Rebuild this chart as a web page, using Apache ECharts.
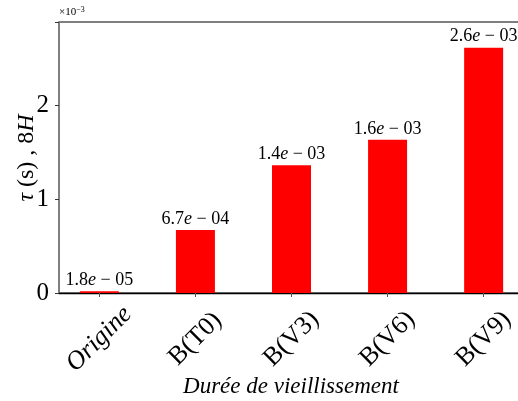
<!DOCTYPE html>
<html>
<head>
<meta charset="utf-8">
<script src="https://cdn.jsdelivr.net/npm/echarts@6/dist/echarts.min.js"></script>
<style>html,body{margin:0;padding:0;background:#fff}#c{width:518px;height:401px}</style>
</head>
<body>
<div id="c"></div>
<script>
// ---- data ----
const categories = ['Origine', 'B(T0)', 'B(V3)', 'B(V6)', 'B(V9)'];
const tauValues = [1.8e-5, 6.7e-4, 1.36e-3, 1.63e-3, 2.61e-3];
const yTickLabels = ['0', '1', '2'];
const xTitle = 'Durée de vieillissement';
const yTitle = '{it|τ} (s) , 8{it|H}';
const offsetText = '{a|×10}{b|−3}';

const FONT = 'Liberation Serif';
const chart = echarts.init(document.getElementById('c'), null, {renderer: 'canvas'});

function fmtLabel(v) {
  const s = v.toExponential(1); // e.g. 1.8e-5
  const [m, e] = s.split('e');
  const n = parseInt(e, 10);
  const sign = n < 0 ? '−' : '+';
  const ex = String(Math.abs(n)).padStart(2, '0');
  return m + '{it|e} ' + sign + ' ' + ex;
}

const option = {
  backgroundColor: '#fff',
  animation: false,
  textStyle: {fontFamily: FONT},
  grid: {left: 59, top: 22, width: 465, height: 271, show: true, borderColor: '#000', borderWidth: 1, outerBoundsMode: 'none'},
  xAxis: {
    type: 'value', min: -0.42, max: 4.42,
    splitLine: {show: false},
    axisLine: {show: true, onZero: false, lineStyle: {color: '#000', width: 1.3}},
    axisTick: {show: true, length: 4, customValues: categories.map((c, i) => i), lineStyle: {color: '#555'}},
    axisLabel: {
      customValues: categories.map((c, i) => i),
      rotate: 45, align: 'center', verticalAlign: 'middle', margin: 46,
      fontFamily: FONT, fontSize: 26, color: '#000',
      formatter: v => { const i = Math.round(v); return i === 0 ? '{it|' + categories[i] + '}' : '{rm|' + categories[i] + '}'; },
      rich: {
        it: {fontFamily: FONT, fontStyle: 'italic', fontSize: 26, color: '#000'},
        rm: {fontFamily: FONT, fontSize: 26, color: '#000'}
      }
    }
  },
  yAxis: {
    type: 'value', min: 0, max: 2.883e-3, interval: 1e-3,
    splitLine: {show: false},
    axisLine: {show: true, onZero: false, lineStyle: {color: '#808080', width: 2}},
    axisTick: {show: true, length: 4, lineStyle: {color: '#333'}},
    axisLabel: {
      fontFamily: FONT, fontSize: 25, color: '#000', margin: 10,
      formatter: v => yTickLabels[Math.round(v * 1000)] ?? ''
    }
  },
  series: [{
    type: 'bar',
    data: tauValues.map((v, i) => [i, v]),
    barWidth: 39,
    itemStyle: {color: '#ff0000'},
    label: {
      show: true, position: 'top', distance: 2,
      fontFamily: FONT, fontSize: 18, color: '#000',
      formatter: p => fmtLabel(p.value[1]),
      rich: {it: {fontFamily: FONT, fontStyle: 'italic', fontSize: 18, color: '#000'}}
    }
  }],
  graphic: [
    {type: 'text', x: 27, y: 158, rotation: Math.PI / 2,
     style: {text: yTitle, fontFamily: FONT, fontSize: 24, fill: '#000', align: 'center', verticalAlign: 'middle',
       rich: {it: {fontFamily: FONT, fontStyle: 'italic', fontSize: 24, fill: '#000'}}}},
    {type: 'text', x: 291, y: 387,
     style: {text: xTitle, fontFamily: FONT, fontStyle: 'italic', fontSize: 23, fill: '#000', align: 'center', verticalAlign: 'middle'}},
    {type: 'text', x: 59, y: 19,
     style: {text: offsetText, fontFamily: FONT, fill: '#000', align: 'left', verticalAlign: 'bottom',
       rich: {a: {fontSize: 11, fontFamily: FONT, fill: '#000'}, b: {fontSize: 8, fontFamily: FONT, fill: '#000', padding: [0, 0, 5, 0]}}}}
  ]
};
chart.setOption(option);
</script>
</body>
</html>
